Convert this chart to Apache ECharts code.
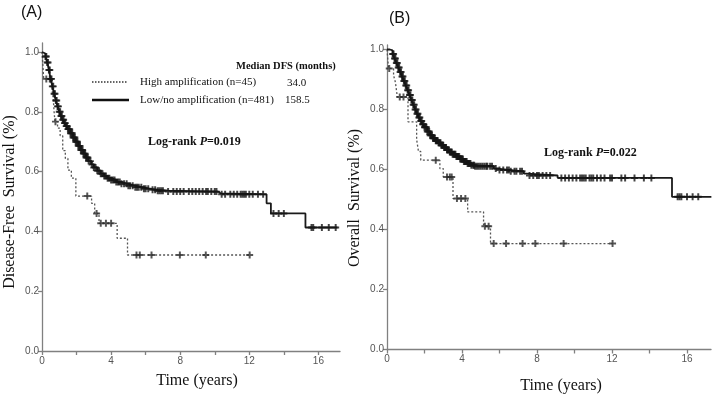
<!DOCTYPE html>
<html>
<head>
<meta charset="utf-8">
<script src="https://cdn.jsdelivr.net/npm/echarts@6/dist/echarts.min.js"></script>
<style>
html,body{margin:0;padding:0;background:#fff;}
#chart{width:719px;height:395px;}
</style>
</head>
<body>
<div id="chart"></div>
<script>
// ---------- DATA ----------
const TICK_X = [0, 4, 8, 12, 16];
const MINOR_X = [0, 2, 4, 6, 8, 10, 12, 14, 16];
const TICK_Y = [0, 0.2, 0.4, 0.6, 0.8, 1.0];

// Panel A: Disease-free survival
const A_HIGH_T = [0, 0.1, 0.6, 0.65, 0.7, 0.75, 0.9, 1.05, 1.2, 1.35, 1.5, 1.7, 1.96, 2.87, 3.05, 3.3, 4.35, 4.95, 12.02];
const A_HIGH_S = [1.0, 0.91, 0.867, 0.844, 0.80, 0.767, 0.745, 0.72, 0.67, 0.644, 0.605, 0.578, 0.518, 0.494, 0.46, 0.427, 0.377, 0.321, 0.321];
const A_HIGH_CENSOR = [0.25, 0.45, 0.78, 2.62, 3.16, 3.4, 3.7, 4.0, 5.47, 5.66, 6.34, 7.98, 9.48, 12.02];

const A_LOW_T = [0, 0.1, 0.2, 0.3, 0.4, 0.5, 0.6, 0.7, 0.8, 0.9, 1.0, 1.1, 1.2, 1.3, 1.4, 1.5, 1.65, 1.8, 1.95, 2.1, 2.25, 2.4, 2.55, 2.7, 2.85, 3.0, 3.2, 3.4, 3.6, 3.8, 4.0, 4.3, 4.6, 5.0, 5.4, 5.8, 6.2, 6.7, 7.3, 10.2, 10.35, 13.0, 13.25, 15.25, 17.1];
const A_LOW_S = [1.0, 0.995, 0.985, 0.965, 0.94, 0.91, 0.885, 0.86, 0.838, 0.818, 0.8, 0.786, 0.773, 0.762, 0.752, 0.742, 0.728, 0.714, 0.7, 0.686, 0.672, 0.66, 0.647, 0.635, 0.624, 0.614, 0.603, 0.593, 0.585, 0.578, 0.572, 0.565, 0.559, 0.553, 0.548, 0.543, 0.539, 0.536, 0.533, 0.527, 0.524, 0.494, 0.46, 0.413, 0.413];
const A_LOW_CENSOR = [0.2, 0.25, 0.3, 0.35, 0.4, 0.45, 0.5, 0.55, 0.6, 0.65, 0.7, 0.75, 0.8, 0.85, 0.9, 0.95, 1.0, 1.05, 1.1, 1.15, 1.2, 1.25, 1.3, 1.35, 1.4, 1.45, 1.5, 1.55, 1.6, 1.65, 1.7, 1.75, 1.8, 1.85, 1.9, 1.95, 2.0, 2.05, 2.1, 2.15, 2.2, 2.25, 2.3, 2.35, 2.4, 2.45, 2.5, 2.55, 2.6, 2.65, 2.7, 2.8, 2.9, 3.0, 3.1, 3.2, 3.3, 3.4, 3.5, 3.6, 3.7, 3.8, 3.9, 4.0, 4.1, 4.2, 4.3, 4.4, 4.5, 4.6, 4.75, 4.9, 5.0, 5.1, 5.25, 5.4, 5.5, 5.6, 5.75, 5.9, 6.0, 6.15, 6.4, 6.55, 6.7, 6.8, 6.9, 7.0, 7.3, 7.6, 7.8, 8.0, 8.2, 8.5, 8.7, 8.9, 9.1, 9.3, 9.5, 9.6, 9.8, 10.0, 10.1, 10.4, 10.6, 10.9, 11.1, 11.3, 11.5, 11.6, 11.7, 11.8, 12.0, 12.2, 12.5, 12.8, 13.4, 13.7, 14.0, 15.6, 15.7, 16.2, 16.6, 17.0];

// Panel B: Overall survival
const B_HIGH_T = [0, 0.08, 0.35, 0.45, 0.55, 1.12, 1.58, 1.68, 1.8, 2.82, 3.0, 3.52, 4.3, 5.15, 5.52, 12.03];
const B_HIGH_S = [1.0, 0.937, 0.914, 0.89, 0.842, 0.759, 0.70, 0.66, 0.631, 0.603, 0.575, 0.503, 0.459, 0.411, 0.353, 0.353];
const B_HIGH_CENSOR = [0.12, 0.68, 0.88, 2.6, 3.2, 3.35, 3.45, 3.73, 3.95, 4.18, 5.22, 5.42, 5.69, 6.35, 7.23, 7.91, 9.42, 12.03];

const B_LOW_T = [0, 0.15, 0.3, 0.4, 0.5, 0.6, 0.7, 0.8, 0.9, 1.0, 1.1, 1.2, 1.3, 1.4, 1.5, 1.6, 1.7, 1.8, 1.9, 2.0, 2.15, 2.3, 2.45, 2.6, 2.75, 2.9, 3.05, 3.2, 3.35, 3.5, 3.7, 3.9, 4.1, 4.3, 4.5, 4.7, 5.7, 5.9, 6.6, 7.3, 7.45, 9.1, 15.2, 17.3];
const B_LOW_S = [1.0, 0.997, 0.985, 0.97, 0.955, 0.94, 0.925, 0.91, 0.895, 0.88, 0.864, 0.848, 0.832, 0.816, 0.8, 0.786, 0.773, 0.762, 0.751, 0.741, 0.727, 0.714, 0.704, 0.696, 0.689, 0.681, 0.673, 0.665, 0.658, 0.651, 0.643, 0.635, 0.627, 0.62, 0.614, 0.611, 0.603, 0.598, 0.594, 0.586, 0.58, 0.572, 0.509, 0.509];
const B_LOW_CENSOR = [0.3, 0.35, 0.4, 0.45, 0.5, 0.55, 0.6, 0.65, 0.7, 0.75, 0.8, 0.85, 0.9, 0.95, 1.0, 1.05, 1.1, 1.15, 1.2, 1.25, 1.3, 1.35, 1.4, 1.45, 1.5, 1.55, 1.6, 1.65, 1.7, 1.75, 1.8, 1.85, 1.9, 1.95, 2.0, 2.05, 2.1, 2.15, 2.2, 2.25, 2.3, 2.35, 2.4, 2.45, 2.5, 2.55, 2.6, 2.65, 2.7, 2.75, 2.8, 2.85, 2.9, 2.95, 3.0, 3.05, 3.1, 3.15, 3.2, 3.25, 3.3, 3.35, 3.4, 3.45, 3.5, 3.55, 3.6, 3.65, 3.7, 3.75, 3.8, 3.85, 3.9, 3.95, 4.0, 4.05, 4.1, 4.15, 4.2, 4.25, 4.3, 4.35, 4.4, 4.45, 4.5, 4.6, 4.65, 4.7, 4.8, 4.9, 5.0, 5.1, 5.2, 5.3, 5.35, 5.5, 5.6, 5.8, 6.0, 6.2, 6.4, 6.5, 6.6, 6.8, 6.9, 7.1, 7.2, 7.6, 7.8, 8.0, 8.1, 8.3, 8.5, 8.7, 9.3, 9.5, 9.7, 9.9, 10.1, 10.3, 10.4, 10.5, 10.6, 10.8, 10.9, 11.0, 11.2, 11.4, 11.6, 11.9, 12.0, 12.5, 12.7, 13.2, 13.7, 14.1, 15.5, 15.6, 15.7, 16.0, 16.3, 16.6];

// ---------- BUILD ----------
function pairs(T, S) { return T.map((t, i) => [t, S[i]]); }
function survAt(T, S, t) {
  let s = S[0];
  for (let i = 0; i < T.length; i++) { if (T[i] <= t + 1e-9) s = S[i]; else break; }
  return s;
}
function censor(T, S, C) { return C.map(t => [t, survAt(T, S, t)]); }

const PLUS = 'path://M3.6,0H6.4V3.6H10V6.4H6.4V10H3.6V6.4H0V3.6H3.6Z';
const SERIF = '"Liberation Serif","Times New Roman",serif';
const SANS = '"Liberation Sans",Arial,sans-serif';
const AXIS_COLOR = '#808080';

function xAxisCfg(gi, max) {
  return {
    type: 'value', gridIndex: gi, min: 0, max: max, interval: 2,
    axisLine: { show: true, onZero: false, lineStyle: { color: AXIS_COLOR, width: 1.3 } },
    axisTick: { show: true, length: 4, inside: false, customValues: MINOR_X, lineStyle: { color: AXIS_COLOR, width: 1.3 } },
    axisLabel: { customValues: TICK_X, color: '#555', fontSize: 10, fontFamily: SANS, margin: 5,
      formatter: v => (TICK_X.indexOf(v) >= 0 ? String(v) : '') },
    splitLine: { show: false }
  };
}
function yAxisCfg(gi, max) {
  return {
    type: 'value', gridIndex: gi, min: 0, max: max, interval: 0.2,
    axisLine: { show: true, onZero: false, lineStyle: { color: AXIS_COLOR, width: 1.3 } },
    axisTick: { show: true, length: 4, customValues: TICK_Y, lineStyle: { color: AXIS_COLOR, width: 1.3 } },
    axisLabel: { customValues: TICK_Y, color: '#555', fontSize: 10, fontFamily: SANS, margin: 3,
      formatter: v => (Math.abs(v * 5 - Math.round(v * 5)) < 1e-6 && v <= 1.0001 ? v.toFixed(1) : '') },
    splitLine: { show: false }
  };
}

function panelSeries(gi, HT, HS, HC, LT, LS, LC) {
  return [
    { type: 'line', xAxisIndex: gi, yAxisIndex: gi, step: 'end', showSymbol: false, silent: true,
      data: pairs(HT, HS), lineStyle: { color: '#555', width: 1.3, type: [2, 2] }, z: 2 },
    { type: 'scatter', xAxisIndex: gi, yAxisIndex: gi, symbol: PLUS, symbolSize: 7, silent: true,
      data: censor(HT, HS, HC), itemStyle: { color: '#2a2a2a' }, z: 3 },
    { type: 'line', xAxisIndex: gi, yAxisIndex: gi, step: 'end', showSymbol: false, silent: true,
      data: pairs(LT, LS), lineStyle: { color: '#1a1a1a', width: 1.8 }, z: 4 },
    { type: 'scatter', xAxisIndex: gi, yAxisIndex: gi, symbol: PLUS, symbolSize: 7, silent: true,
      data: censor(LT, LS, LC), itemStyle: { color: '#151515' }, z: 5 }
  ];
}

const chart = echarts.init(document.getElementById('chart'), null, { renderer: 'canvas' });
chart.setOption({
  animation: false,
  backgroundColor: '#fff',
  grid: [
    { left: 42, top: 43, width: 298, height: 308 },
    { left: 387, top: 45, width: 324, height: 304.5 }
  ],
  xAxis: [xAxisCfg(0, 17.25), xAxisCfg(1, 17.28)],
  yAxis: [yAxisCfg(0, 1.03), yAxisCfg(1, 1.015)],
  series: [
    ...panelSeries(0, A_HIGH_T, A_HIGH_S, A_HIGH_CENSOR, A_LOW_T, A_LOW_S, A_LOW_CENSOR),
    ...panelSeries(1, B_HIGH_T, B_HIGH_S, B_HIGH_CENSOR, B_LOW_T, B_LOW_S, B_LOW_CENSOR)
  ],
  graphic: [
    { type: 'text', x: 21, y: 13, style: { text: '(A)', font: '16px ' + SANS, fill: '#111', verticalAlign: 'middle', align: 'left' } },
    { type: 'text', x: 389, y: 19, style: { text: '(B)', font: '16px ' + SANS, fill: '#111', verticalAlign: 'middle', align: 'left' } },
    { type: 'text', x: 10, y: 202, rotation: Math.PI / 2, style: { text: 'Disease-Free  Survival (%)', font: '16px ' + SERIF, fill: '#111', align: 'center', verticalAlign: 'middle' } },
    { type: 'text', x: 355, y: 198, rotation: Math.PI / 2, style: { text: 'Overall  Survival (%)', font: '16px ' + SERIF, fill: '#111', align: 'center', verticalAlign: 'middle' } },
    { type: 'text', x: 197, y: 381, style: { text: 'Time (years)', font: '16px ' + SERIF, fill: '#111', align: 'center', verticalAlign: 'middle' } },
    { type: 'text', x: 561, y: 386, style: { text: 'Time (years)', font: '16px ' + SERIF, fill: '#111', align: 'center', verticalAlign: 'middle' } },
    // legend
    { type: 'text', x: 236, y: 66, style: { text: 'Median DFS (months)', font: 'bold 10.5px ' + SERIF, fill: '#111', align: 'left', verticalAlign: 'middle' } },
    { type: 'line', shape: { x1: 92, y1: 82, x2: 128, y2: 82 }, style: { stroke: '#333', lineWidth: 1.5, lineDash: [1.5, 1.5] } },
    { type: 'line', shape: { x1: 92, y1: 100, x2: 129, y2: 100 }, style: { stroke: '#111', lineWidth: 2.5 } },
    { type: 'text', x: 140, y: 82, style: { text: 'High amplification (n=45)', font: '11px ' + SERIF, fill: '#111', align: 'left', verticalAlign: 'middle' } },
    { type: 'text', x: 140, y: 100, style: { text: 'Low/no amplification (n=481)', font: '11px ' + SERIF, fill: '#111', align: 'left', verticalAlign: 'middle' } },
    { type: 'text', x: 287, y: 83, style: { text: '34.0', font: '11px ' + SERIF, fill: '#111', align: 'left', verticalAlign: 'middle' } },
    { type: 'text', x: 285, y: 100, style: { text: '158.5', font: '11px ' + SERIF, fill: '#111', align: 'left', verticalAlign: 'middle' } },
    { type: 'text', x: 148, y: 142, style: {
        text: '{b|Log-rank }{i|P}{b|=0.019}', align: 'left', verticalAlign: 'middle',
        rich: { b: { font: 'bold 12px ' + SERIF, fill: '#111' }, i: { font: 'italic bold 12px ' + SERIF, fill: '#111' } } } },
    { type: 'text', x: 544, y: 153, style: {
        text: '{b|Log-rank }{i|P}{b|=0.022}', align: 'left', verticalAlign: 'middle',
        rich: { b: { font: 'bold 12px ' + SERIF, fill: '#111' }, i: { font: 'italic bold 12px ' + SERIF, fill: '#111' } } } }
  ]
});
</script>
</body>
</html>
